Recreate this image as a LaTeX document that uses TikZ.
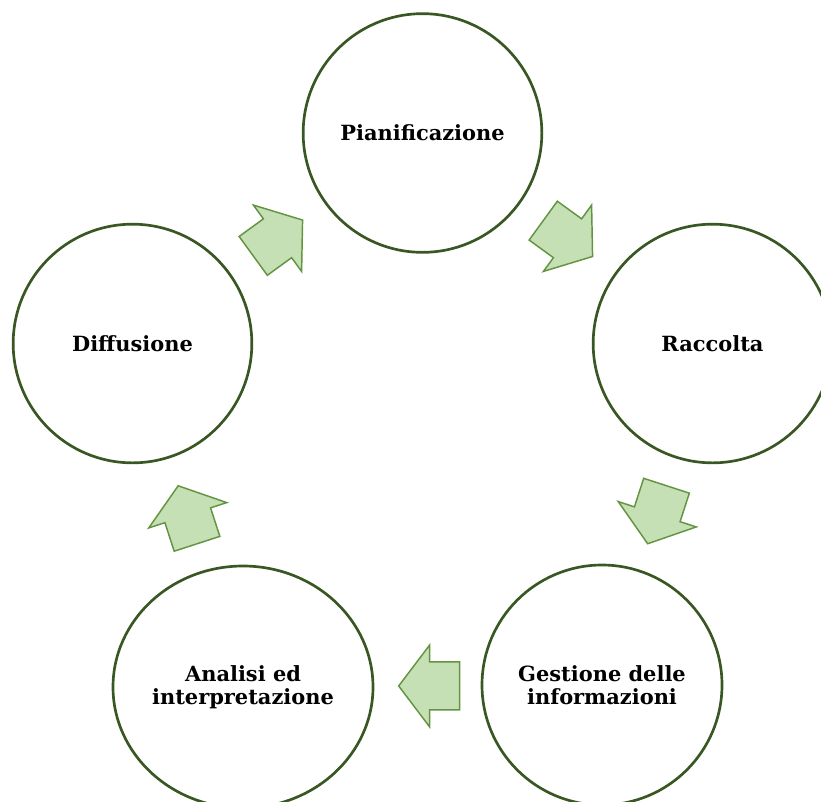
\documentclass[tikz,border=0pt]{standalone}
\usepackage{fontspec}
\setmainfont{DejaVu Serif}
\usetikzlibrary{calc,shapes.geometric}
\definecolor{ringgreen}{RGB}{56,87,35}
\definecolor{arrowfill}{RGB}{197,224,180}
\definecolor{arrowline}{RGB}{100,148,66}
\tikzset{
    %Define style for the stage circles
    stage/.style={
           circle,
           draw=ringgreen,
           line width=2pt,
           fill=white,
           minimum size=179pt,
           inner sep=0pt,
           font=\fontsize{15.7}{17.4}\selectfont\bfseries,
           align=center},
    widestage/.style={
           stage,
           ellipse,
           minimum width=195pt,
           minimum height=181.5pt},
    % Define block arrow between two stages
    cyclearrow/.pic={
           \draw[fill=arrowfill, draw=arrowline, line width=1.1pt, line join=miter]
             (-30,-24) -- (0,-24) -- (0,-41) -- (31,0) -- (0,41) -- (0,24) -- (-30,24) -- cycle;}
}
\begin{document}
\begin{tikzpicture}[x=0.75pt,y=-0.75pt]
\useasboundingbox (0,0) rectangle (821,801);
\clip (0,0) rectangle (821,801);
 %nodes
\node[stage] (plan) at (422.5,133) {Pianificazione};
\node[stage] (racc) at (712.5,343.5) {Raccolta};
\node[stage, minimum size=180pt] (gest) at (602,685) {Gestione delle\\informazioni};
\node[widestage] (anal) at (243,687) {Analisi ed\\interpretazione};
\node[stage] (diff) at (132.5,343.5) {Diffusione};
 %arrows
\pic[rotate=36] at ($(diff)!.5!(plan)$) {cyclearrow};
\pic[rotate=-36] at ($(plan)!.5!(racc)$) {cyclearrow};
\pic[rotate=-108] at ($(racc)!.5!(gest)$) {cyclearrow};
\pic[rotate=180] at ($(gest)!.48!(anal)$) {cyclearrow};
\pic[rotate=108] at ($(anal)!.5!(diff)$) {cyclearrow};
\end{tikzpicture}
\end{document}
